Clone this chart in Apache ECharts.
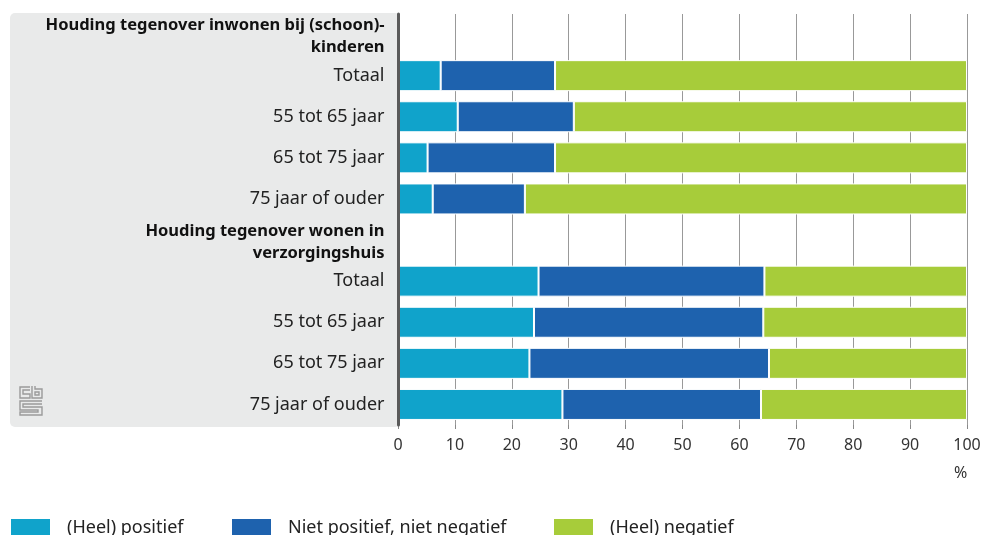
<!DOCTYPE html>
<html>
<head>
    <meta charset="utf-8" />
    <title>Houding tegenover wonen</title>
    <script src="https://cdn.jsdelivr.net/npm/echarts@6/dist/echarts.min.js"></script>
    <style>
        html, body { margin: 0; padding: 0; background: #fff; }
        #main { width: 986px; height: 535px; }
    </style>
</head>
<body>
    <div id="main"></div>

    <script type="text/javascript">
        // categorieën (kopregels hebben geen staven)
        var categories = [
            'head1', 'Totaal', '55 tot 65 jaar', '65 tot 75 jaar', '75 jaar of ouder',
            'head2', 'Totaal ', '55 tot 65 jaar ', '65 tot 75 jaar ', '75 jaar of ouder '
        ];
        var headers = {
            head1: 'Houding tegenover inwonen bij (schoon)-\nkinderen',
            head2: 'Houding tegenover wonen in\nverzorgingshuis'
        };
        var seriesNames = ['(Heel) positief', 'Niet positief, niet negatief', '(Heel) negatief'];

        var positief = ['-', 7.5, 10.5, 5.2, 6.1, '-', 24.7, 23.9, 23.1, 28.9];
        var neutraal = ['-', 20.1, 20.4, 22.4, 16.2, '-', 39.7, 40.3, 42.1, 34.9];
        var negatief = ['-', 72.4, 69.1, 72.4, 77.7, '-', 35.6, 35.8, 34.8, 36.2];

        var xTicks = [0, 10, 20, 30, 40, 50, 60, 70, 80, 90, 100];

        var colors = ['#10a3cb', '#1e62ae', '#a7cc3a'];
        var font = 'Noto Sans';

        var myChart = echarts.init(document.getElementById('main'));

        function bar(name, data, color) {
            return {
                name: name,
                type: 'bar',
                stack: 'totaal',
                barWidth: 31,
                data: data,
                itemStyle: { color: color, borderColor: '#ffffff', borderWidth: 1 },
                emphasis: { disabled: true }
            };
        }

        // logo (cbs) als eenvoudige lijntjes
        var logoStyle = { stroke: '#9a9a9a', lineWidth: 1.4, fill: null };
        var logo = [
            { type: 'polyline', shape: { points: [[30, 387], [20, 387], [20, 398], [30, 398], [30, 394], [23, 394], [23, 390], [30, 390]] }, style: logoStyle },
            { type: 'polyline', shape: { points: [[32, 386], [32, 398], [42, 398], [42, 389], [35, 389], [35, 386]] }, style: logoStyle },
            { type: 'rect', shape: { x: 35, y: 392, width: 4, height: 3 }, style: logoStyle },
            { type: 'polyline', shape: { points: [[42, 401], [20, 401], [20, 410], [38, 410], [38, 412], [20, 412], [20, 415], [42, 415], [42, 407], [23, 407], [23, 404], [42, 404]] }, style: logoStyle }
        ];

        var option = {
            animation: false,
            textStyle: { fontFamily: font },
            color: colors,
            graphic: [
                {
                    type: 'rect', z: -10, silent: true,
                    shape: { x: 10, y: 13, width: 390, height: 414, r: 5 },
                    style: { fill: '#e9eaea' }
                },
                {
                    type: 'text', left: 954, top: 465, silent: true,
                    style: { text: '%', font: '16px "' + font + '"', fill: '#333333' }
                }
            ].concat(logo),
            legend: seriesNames.map(function (n, i) {
                return {
                    data: [n],
                    left: [9, 230, 552][i],
                    top: 517,
                    padding: 0,
                    itemWidth: 41,
                    itemHeight: 20,
                    itemGap: 0,
                    icon: 'rect',
                    selectedMode: false,
                    textStyle: { fontSize: 18, color: '#222222', fontFamily: font, padding: [2, 0, 0, 11] }
                };
            }),
            grid: { left: 398, right: 19, top: 14, height: 411, containLabel: false },
            xAxis: {
                type: 'value',
                min: 0,
                max: 100,
                interval: 10,
                axisLine: { show: false },
                axisTick: { show: true, length: 4, lineStyle: { color: '#888888' } },
                splitLine: { show: true, lineStyle: { color: '#999999', width: 1 } },
                axisLabel: {
                    fontSize: 16, color: '#333333', margin: 12,
                    formatter: function (v) { return xTicks.indexOf(v) >= 0 ? String(v) : ''; }
                }
            },
            yAxis: {
                type: 'category',
                inverse: true,
                data: categories,
                z: 5,
                offset: 1.5,
                axisLine: { show: true, lineStyle: { color: '#5a5a5a', width: 3 } },
                axisTick: { show: false },
                axisLabel: {
                    margin: 12,
                    interval: 0,
                    fontSize: 18,
                    color: '#222222',
                    lineHeight: 22,
                    formatter: function (v) {
                        if (headers[v]) {
                            return headers[v].split('\n').map(function (l) { return '{b|' + l + '}'; }).join('\n');
                        }
                        return v.trim();
                    },
                    rich: {
                        b: { fontSize: 16.5, fontWeight: 'bold', color: '#111111', lineHeight: 22, fontFamily: font, padding: [4, 0, 0, 0] }
                    }
                }
            },
            series: [
                bar(seriesNames[0], positief, colors[0]),
                bar(seriesNames[1], neutraal, colors[1]),
                bar(seriesNames[2], negatief, colors[2])
            ]
        };

        myChart.setOption(option);
    </script>
</body>
</html>
